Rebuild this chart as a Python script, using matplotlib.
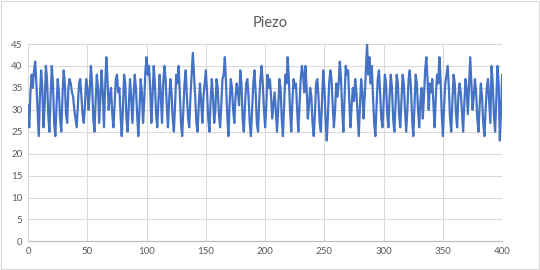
import matplotlib
matplotlib.use("Agg")
import matplotlib.pyplot as plt
from matplotlib.patches import Rectangle

# Piezo readings, one per sample index 0..400
piezo = [
    31, 26, 34, 38, 35, 39, 41, 36, 30, 24, 33, 39, 35, 26, 31, 40, 37, 29, 25, 33,
    40, 36, 27, 24, 31, 37, 34, 28, 25, 33, 39, 36, 29, 27, 35, 37, 36, 34, 33, 30,
    28, 26, 31, 36, 37, 33, 29, 27, 31, 37, 35, 30, 34, 40, 36, 28, 25, 32, 38, 35,
    27, 33, 39, 34, 26, 35, 42, 37, 30, 33, 35, 29, 26, 31, 37, 38, 34, 35, 29, 24,
    30, 38, 36, 28, 25, 31, 37, 33, 27, 33, 38, 35, 29, 24, 30, 37, 34, 27, 32, 39,
    42, 38, 40, 35, 27, 33, 40, 36, 29, 26, 32, 38, 33, 27, 36, 40, 37, 31, 26, 32,
    37, 34, 28, 25, 31, 38, 36, 40, 34, 27, 24, 30, 36, 39, 33, 28, 26, 33, 38, 43,
    38, 33, 27, 25, 31, 36, 32, 27, 33, 36, 39, 34, 28, 25, 32, 37, 33, 27, 30, 37,
    35, 29, 26, 31, 37, 38, 42, 36, 29, 24, 31, 37, 35, 30, 27, 33, 36, 34, 31, 39,
    36, 28, 25, 31, 36, 37, 33, 27, 24, 30, 36, 39, 34, 27, 25, 32, 37, 40, 36, 30,
    26, 31, 38, 35, 37, 33, 28, 31, 34, 30, 25, 30, 37, 35, 28, 24, 31, 38, 36, 42,
    37, 30, 25, 32, 37, 35, 36, 30, 25, 31, 37, 40, 38, 34, 40, 35, 28, 31, 35, 33,
    27, 24, 29, 36, 37, 33, 27, 25, 32, 39, 35, 28, 23, 29, 36, 39, 37, 31, 26, 30,
    36, 33, 36, 41, 37, 30, 25, 33, 40, 38, 39, 32, 26, 31, 35, 32, 37, 34, 29, 24,
    31, 37, 34, 28, 33, 39, 45, 38, 42, 36, 40, 33, 27, 24, 31, 37, 39, 34, 28, 26,
    32, 38, 36, 29, 26, 33, 38, 35, 28, 25, 31, 38, 36, 29, 26, 32, 38, 36, 30, 25,
    30, 37, 39, 35, 28, 24, 31, 38, 36, 30, 26, 32, 35, 28, 33, 39, 42, 37, 30, 36,
    34, 37, 31, 26, 33, 38, 36, 42, 37, 29, 24, 31, 36, 38, 40, 35, 28, 25, 32, 38,
    36, 29, 26, 33, 36, 34, 30, 25, 31, 37, 35, 29, 35, 42, 36, 30, 33, 37, 34, 28,
    25, 31, 36, 33, 27, 24, 30, 35, 37, 32, 27, 40, 36, 29, 25, 32, 40, 36, 23, 30,
    38,
]
samples = list(range(len(piezo)))

x_ticks = [0, 50, 100, 150, 200, 250, 300, 350, 400]
y_ticks = [0, 5, 10, 15, 20, 25, 30, 35, 40, 45]

plt.rcParams['font.family'] = ['Lato', 'DejaVu Sans']

fig = plt.figure(figsize=(5.4, 2.7), dpi=100)
ax = fig.add_axes([0.052, 0.106, 0.878, 0.731])

ax.plot(samples, piezo, color='#4472C4', linewidth=1.6)

ax.set_xlim(0, 400)
ax.set_ylim(0, 45)
ax.set_xticks(x_ticks)
ax.set_yticks(y_ticks)
ax.tick_params(length=0, labelsize=7, colors='#595959', pad=4)
ax.grid(True, color='#D9D9D9', linewidth=0.75)
ax.set_axisbelow(True)
for side in ['top', 'right', 'left']:
    ax.spines[side].set_visible(False)
ax.spines['bottom'].set_color('#BFBFBF')
ax.spines['bottom'].set_linewidth(0.9)

fig.text(0.5, 0.915, 'Piezo', ha='center', va='center', fontsize=10.5, color='#595959')

# thin chart-area border like Excel
fig.patches.append(Rectangle((0.002, 0.004), 0.996, 0.992, transform=fig.transFigure,
                             fill=False, edgecolor='#D9D9D9', linewidth=0.8))

plt.savefig('out.png', dpi=100)
plt.close()
